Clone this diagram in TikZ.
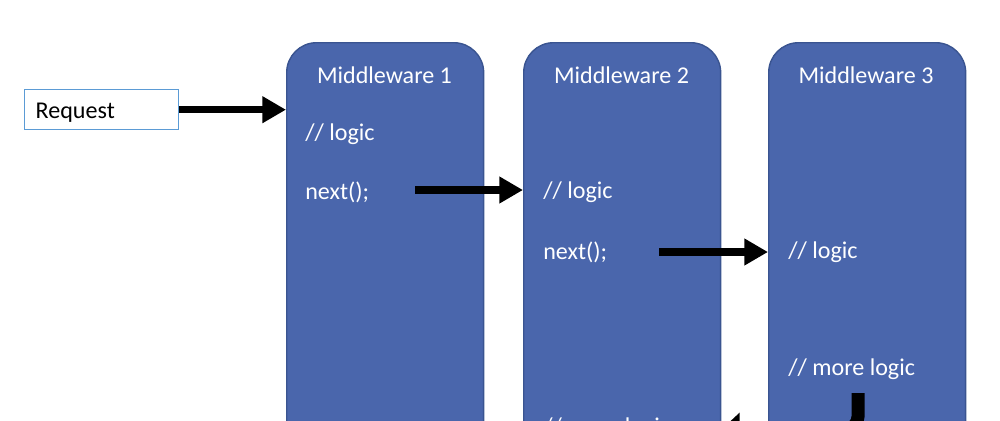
\documentclass[tikz,border=0pt]{standalone}
\usepackage{fontspec}
\setmainfont{Carlito}
\usetikzlibrary{arrows.meta}
\definecolor{Block}{HTML}{4A66AC}
\definecolor{BlockEdge}{HTML}{3A5490}
\definecolor{ReqEdge}{HTML}{5B9BD5}

\begin{document}
\begin{tikzpicture}[x=0.02cm,y=-0.02cm,
    mw/.style={draw=BlockEdge,line width=0.8pt,fill=Block,rounded corners=17pt,minimum width=3.94cm,minimum height=10cm,anchor=north west,inner sep=0},
    txt/.style={text=white,inner sep=0,anchor=west,font=\fontsize{13.7}{16}\selectfont},
    ttl/.style={text=white,inner sep=0,font=\fontsize{13.7}{16}\selectfont},
    arr/.style={-{Triangle[length=13.5pt,width=14.5pt]},line width=4pt,draw=black}
  ]
    \useasboundingbox (0,0) rectangle (1000,420);
    \clip (0,0) rectangle (1000,420);
    % request
    \node[draw=ReqEdge,line width=0.8pt,fill=white,anchor=north west,text width=2.64cm,inner xsep=0.22cm,inner ysep=0,minimum height=0.8cm,text height=13pt,text depth=2.5pt,align=left,font=\fontsize{13.7}{16}\selectfont] (req) at (24,89) {Request};
    % middleware blocks
    \node[mw] (mw1) at (286,42) {};
    \node[mw] (mw2) at (523,42) {};
    \node[mw] (mw3) at (768,42) {};
    \node[ttl] (t1) at (384.5,75) {Middleware 1};
    \node[ttl] (t2) at (621.5,75) {Middleware 2};
    \node[ttl] (t3) at (866,75) {Middleware 3};
    \node[txt] (lg1) at (305,134) {// logic};
    \node[txt] (nx1) at (305,192) {next();};
    \node[txt] (lg2) at (543,192) {// logic};
    \node[txt] (nx2) at (543,252) {next();};
    \node[txt] (ml2) at (543,428) {// more logic};
    \node[txt] (lg3) at (788,252) {// logic};
    \node[txt] (ml3) at (788,369) {// more logic};
    % connectors
    \coordinate (a1) at (415,190);
    \coordinate (a2) at (659,252);
    \coordinate (a3) at (858,393);
    \coordinate (b3) at (722,429);
    \draw[arr] (req.east) -- (req.east -| mw1.west);
    \draw[arr] (a1) -- (a1 -| mw2.west);
    \draw[arr] (a2) -- (a2 -| mw3.west);
    \draw[-{Triangle[length=10pt,width=18pt]},line width=7.4pt,rounded corners=7pt] (a3) |- (b3);
\end{tikzpicture}
\end{document}
